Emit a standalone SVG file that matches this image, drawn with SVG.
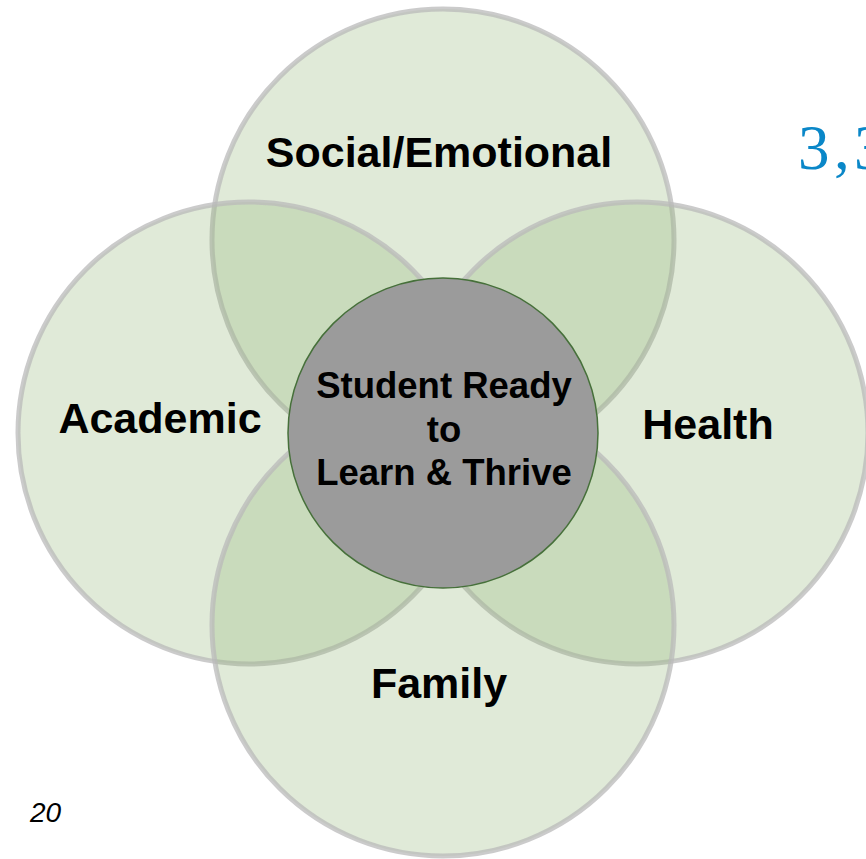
<svg xmlns="http://www.w3.org/2000/svg" width="866" height="859" viewBox="0 0 866 859">
  <style>
    .petal { fill: #8fb573; fill-opacity: 0.28; stroke: #b9b9b9; stroke-opacity: 0.75; stroke-width: 5; }
    .core { fill: #9b9b9b; stroke: #46703a; stroke-width: 1.5; }
    .lbl { font-family: "Liberation Sans", Arial, sans-serif; font-weight: bold; font-size: 43px; fill: #000; text-anchor: middle; }
    .clbl { font-family: "Liberation Sans", Arial, sans-serif; font-weight: bold; font-size: 36.5px; fill: #000; text-anchor: middle; }
  </style>
  <rect width="866" height="859" fill="#ffffff"/>
  <g id="social-emotional">
    <circle class="petal" cx="443" cy="240" r="231"/>
  </g>
  <g id="academic">
    <circle class="petal" cx="249" cy="433" r="231"/>
  </g>
  <g id="health">
    <circle class="petal" cx="637" cy="433" r="231"/>
  </g>
  <g id="family">
    <circle class="petal" cx="443" cy="625" r="231"/>
  </g>
  <g id="connectors"></g>
  <g id="student">
    <circle class="core" cx="443" cy="433" r="155"/>
    <text class="clbl" x="444" y="398">Student Ready</text>
    <text class="clbl" x="444" y="442">to</text>
    <text class="clbl" x="444" y="485">Learn &amp; Thrive</text>
  </g>
  <g id="labels">
    <text class="lbl" x="439" y="167">Social/Emotional</text>
    <text class="lbl" x="160" y="433">Academic</text>
    <text class="lbl" x="708" y="439">Health</text>
    <text class="lbl" x="439" y="698">Family</text>
  </g>
  <text x="798 834 854" y="169" font-family="Liberation Serif, 'Times New Roman', serif" font-size="63" fill="#0a87c8">3,3</text>
  <text x="30" y="822" font-family="Liberation Sans, Arial, sans-serif" font-style="italic" font-size="28" fill="#000">20</text>
</svg>
